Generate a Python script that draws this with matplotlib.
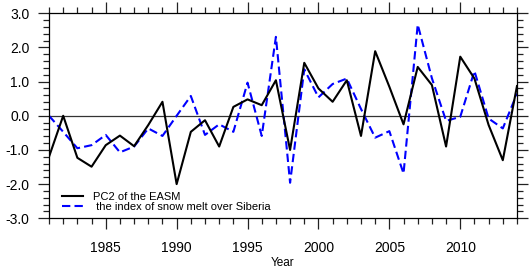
import matplotlib
matplotlib.use('Agg')
import matplotlib.pyplot as plt
from matplotlib.ticker import MultipleLocator

years = list(range(1981, 2015))
pc2_easm = [-1.2, 0.0, -1.23, -1.49, -0.86, -0.58, -0.89, -0.27, 0.41, -2.0,
            -0.47, -0.13, -0.9, 0.26, 0.48, 0.31, 1.04, -1.0, 1.55, 0.8,
            0.41, 1.04, -0.59, 1.89, 0.85, -0.25, 1.43, 0.9, -0.9, 1.73,
            1.09, -0.27, -1.3, 0.87]
snow_melt = [0.0, -0.47, -0.95, -0.86, -0.56, -1.07, -0.9, -0.37, -0.59, 0.0,
             0.58, -0.56, -0.25, -0.47, 0.97, -0.59, 2.31, -1.96, 1.36, 0.54,
             0.93, 1.09, 0.2, -0.64, -0.45, -1.69, 2.67, 1.1, -0.15, -0.03,
             1.31, -0.08, -0.37, 0.65]
labels = ['PC2 of the EASM', ' the index of snow melt over Siberia']

plt.rcParams['font.family'] = ['Liberation Sans', 'DejaVu Sans']

fig = plt.figure(figsize=(5.31, 2.71), dpi=100)
ax = fig.add_axes([0.0923, 0.1945, 0.8813, 0.7565])

ax.axhline(0, color='#333333', lw=0.9, zorder=1)
ax.plot(years, pc2_easm, color='black', lw=1.5, label=labels[0], zorder=3)
ax.plot(years, snow_melt, color='blue', lw=1.5, linestyle=(0, (4, 2)),
        label=labels[1], zorder=2)

ax.set_xlim(1981, 2014)
ax.set_ylim(-3, 3)
ax.xaxis.set_major_locator(MultipleLocator(5))
ax.xaxis.set_minor_locator(MultipleLocator(1))
ax.yaxis.set_major_locator(MultipleLocator(1))
ax.yaxis.set_minor_locator(MultipleLocator(0.2))
ax.yaxis.set_major_formatter(plt.FormatStrFormatter('%.1f'))

ax.tick_params(which='both', direction='out', top=True, right=True,
               labelsize=10, width=0.9, color='#222222')
ax.tick_params(which='major', length=8)
ax.tick_params(which='minor', length=4)
ax.tick_params(axis='x', which='major', pad=8)
ax.tick_params(axis='y', which='major', pad=6)
for s in ax.spines.values():
    s.set_linewidth(0.9)

ax.set_xlabel('Year', fontsize=8.5, labelpad=2)

ax.legend(loc='lower left', bbox_to_anchor=(0.018, 0.01), frameon=False,
          fontsize=8, handlelength=1.9, handletextpad=0.9,
          labelspacing=0.0, borderaxespad=0)

fig.savefig('out.png', dpi=100)
